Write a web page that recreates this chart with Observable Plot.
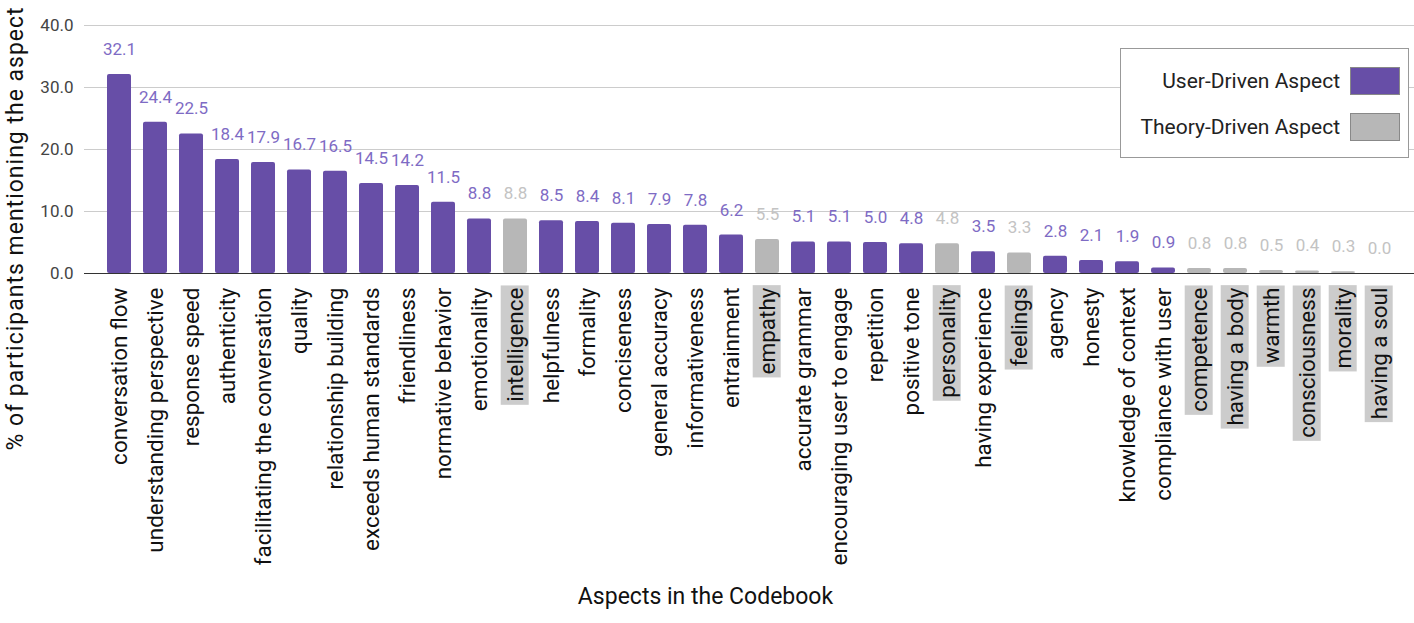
<!DOCTYPE html>
<html>
<head>
<meta charset="utf-8">
<script src="https://cdn.jsdelivr.net/npm/d3@7"></script>
<script src="https://cdn.jsdelivr.net/npm/@observablehq/plot@0.6"></script>
<style>
  html, body { margin: 0; padding: 0; background: #fff; }
  #wrap { position: relative; width: 1414px; height: 623px; font-family: Roboto, sans-serif; }
  #legend { position: absolute; left: 1120px; top: 48px; width: 287px; height: 108px;
            border: 1px solid #999; background: #fff; box-sizing: content-box; }
  .li { position: absolute; right: 8px; display: flex; align-items: center; font-size: 21px; color: #222; }
  .sw { width: 48px; height: 26px; margin-left: 10px; border: 1px solid #888; }
</style>
</head>
<body>
<div id="wrap">
  <div id="chart"></div>
  <div id="legend"></div>
</div>
<script>
const categories = ["conversation flow","understanding perspective","response speed","authenticity","facilitating the conversation","quality","relationship building","exceeds human standards","friendliness","normative behavior","emotionality","intelligence","helpfulness","formality","conciseness","general accuracy","informativeness","entrainment","empathy","accurate grammar","encouraging user to engage","repetition","positive tone","personality","having experience","feelings","agency","honesty","knowledge of context","compliance with user","competence","having a body","warmth","consciousness","morality","having a soul"];
const values = [32.1,24.4,22.5,18.4,17.9,16.7,16.5,14.5,14.2,11.5,8.8,8.8,8.5,8.4,8.1,7.9,7.8,6.2,5.5,5.1,5.1,5.0,4.8,4.8,3.5,3.3,2.8,2.1,1.9,0.9,0.8,0.8,0.5,0.4,0.3,0.0];
const types = ["User","User","User","User","User","User","User","User","User","User","User","Theory","User","User","User","User","User","User","Theory","User","User","User","User","Theory","User","Theory","User","User","User","User","Theory","Theory","Theory","Theory","Theory","Theory"];
const yTicks = [0, 10, 20, 30, 40];
const seriesNames = ["User-Driven Aspect", "Theory-Driven Aspect"];

const barColor = {User: "#674ea7", Theory: "#b7b7b7"};
const labelColor = {User: "#7e6bc4", Theory: "#c3c3c3"};

const data = categories.map((c, i) => ({aspect: c, value: values[i], type: types[i]}));

const chart = Plot.plot({
  width: 1414,
  height: 623,
  marginLeft: 84,
  marginRight: 0,
  marginTop: 25,
  marginBottom: 350,
  style: {fontFamily: "Roboto, sans-serif", background: "#fff", overflow: "visible"},
  x: {domain: categories, paddingInner: 0.34, paddingOuter: 0.34, label: null},
  y: {domain: [0, 40], label: null},
  color: {type: "identity"},
  marks: [
    Plot.ruleY(yTicks.filter(d => d > 0), {stroke: "#cccccc"}),
    Plot.axisY({ticks: yTicks, tickFormat: d => d.toFixed(1), tickSize: 0, tickPadding: 11, fontSize: 17, fill: "#444", label: null}),
    Plot.axisX({tickRotate: -90, tickSize: 0, tickPadding: 14, fontSize: 22.5, fill: "#111", label: null}),
    Plot.barY(data, {x: "aspect", y: "value", fill: d => barColor[d.type], rx: 2}),
    Plot.ruleY([0], {stroke: "#333", strokeWidth: 1.2}),
    Plot.text(data, {x: "aspect", y: "value", text: d => d.value.toFixed(1), dy: -25, fill: d => labelColor[d.type], fontSize: 17}),
    Plot.text(["% of participants mentioning the aspect"], {frameAnchor: "left", textAnchor: "middle", rotate: -90, dx: -69, dy: 79, fontSize: 23, fill: "#111", className: "ytitle"}),
    Plot.text(["Aspects in the Codebook"], {frameAnchor: "bottom", textAnchor: "middle", dx: -44, dy: 330, fontSize: 23, fill: "#111"})
  ]
});
document.getElementById("chart").appendChild(chart);
d3.select(chart).selectAll(".ytitle text").attr("letter-spacing", "1px");

// highlight theory-driven tick labels with a grey box
const theory = new Set(categories.filter((c, i) => types[i] === "Theory"));
d3.select(chart).selectAll('g[aria-label="x-axis tick label"] text').each(function() {
  const t = d3.select(this);
  const label = t.text();
  if (!theory.has(label)) return;
  const bb = this.getBBox();
  const g = d3.select(this.parentNode);
  const cy = bb.y + bb.height / 2;
  g.insert("rect", () => this)
    .attr("transform", t.attr("transform"))
    .attr("x", bb.x - 3)
    .attr("width", bb.width + 5)
    .attr("y", cy - 14)
    .attr("height", 28)
    .attr("fill", "#cccccc");
});

// legend
const legend = document.getElementById("legend");
seriesNames.forEach((name, i) => {
  const row = document.createElement("div");
  row.className = "li";
  row.style.top = (i === 0 ? 18 : 64) + "px";
  row.innerHTML = `<span>${name}</span><span class="sw" style="background:${i === 0 ? barColor.User : barColor.Theory}"></span>`;
  legend.appendChild(row);
});
</script>
</body>
</html>
